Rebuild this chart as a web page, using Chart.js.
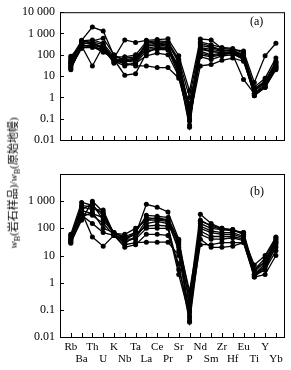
<!DOCTYPE html>
<html>
<head>
<meta charset="utf-8">
<script src="https://cdn.jsdelivr.net/npm/chart.js@4/dist/chart.umd.min.js"></script>
<style>
  body { margin: 0; background: #fff; }
  #wrap { position: relative; width: 291px; height: 370px; }
  canvas { position: absolute; left: 0; top: 0; }
  .tag { position: absolute; font: 12px "Liberation Serif", serif; color: #000; }
  #ylab {
    position: absolute; left: 13px; top: 183px; white-space: nowrap;
    transform: translate(-50%, -50%) rotate(-90deg);
    font: 11px "Liberation Serif", "Noto Sans CJK SC", serif; color: #000;
  }
  #ylab sub { font-size: 8px; }
</style>
</head>
<body>
<div id="wrap">
  <canvas id="ca" width="291" height="370"></canvas>
  <canvas id="cb" width="291" height="370"></canvas>
  <div class="tag" style="left:250px; top:14px;">(a)</div>
  <div class="tag" style="left:250px; top:184px;">(b)</div>
  <div id="ylab"><i>w</i><sub>B</sub>(岩石样品)/<i>w</i><sub>B</sub>(原始地幔)</div>
</div>
<script>
// elements, primitive mantle normalised
const elements = ["Rb", "Ba", "Th", "U", "K", "Nb", "Ta", "La", "Ce", "Pr", "Sr", "P", "Nd", "Sm", "Zr", "Hf", "Eu", "Ti", "Y", "Yb"];
const yTicks = [0.01, 0.1, 1, 10, 100, 1000, 10000];

// panel (a)
const a1 = [40, 480, 2000, 1300, 90, 60, 70, 300, 350, 320, 50, 0.3, 280, 220, 160, 150, 60, 2.5, 6, 30];
const a2 = [85, 280, 250, 130, 70, 500, 380, 480, 520, 560, 90, 2.0, 550, 500, 200, 180, 150, 5, 90, 350];
const a3 = [60, 350, 350, 200, 60, 11, 13, 120, 220, 200, 30, 0.2, 200, 150, 120, 130, 100, 2, 5, 40];
const a4 = [25, 200, 280, 150, 55, 40, 30, 30, 25, 25, 8, 0.1, 30, 35, 55, 70, 50, 1.5, 3, 25];
const a5 = [30, 260, 30, 260, 65, 60, 55, 260, 300, 250, 25, 0.15, 150, 100, 120, 110, 60, 1.5, 4, 35];
const a6 = [50, 400, 450, 600, 100, 50, 60, 350, 400, 380, 40, 0.3, 350, 250, 170, 160, 100, 2, 5, 45];
const a7 = [20, 300, 400, 300, 60, 50, 45, 200, 250, 220, 20, 0.05, 180, 140, 130, 140, 80, 1.2, 3, 20];
const a8 = [35, 380, 300, 250, 45, 70, 80, 250, 300, 300, 15, 0.04, 220, 180, 150, 170, 90, 1.5, 4, 25];
const a9 = [28, 220, 220, 180, 70, 35, 40, 90, 120, 100, 10, 0.08, 80, 60, 90, 100, 7, 1.5, 4, 30];
const a10 = [45, 330, 380, 220, 50, 30, 40, 150, 180, 170, 12, 0.5, 120, 90, 110, 130, 70, 2, 6, 50];
const a11 = [70, 450, 500, 350, 80, 80, 100, 400, 450, 420, 60, 1.0, 400, 300, 220, 200, 120, 3, 8, 70];
const a12 = [22, 250, 300, 200, 40, 55, 60, 180, 200, 190, 18, 0.08, 100, 80, 100, 120, 60, 1.2, 3, 22];

// panel (b)
const b1 = [30, 200, 1000, 400, 60, 30, 50, 200, 250, 200, 30, 0.05, 150, 100, 90, 80, 70, 2, 5, 30];
const b2 = [60, 900, 700, 300, 70, 40, 60, 770, 600, 400, 40, 0.3, 330, 150, 100, 85, 70, 3, 8, 45];
const b3 = [35, 400, 48, 22, 55, 25, 30, 31, 31, 31, 10, 0.08, 25, 25, 30, 30, 30, 1.8, 3, 15];
const b4 = [45, 600, 500, 470, 60, 30, 45, 150, 180, 150, 20, 0.04, 120, 80, 70, 70, 50, 1.6, 4, 20];
const b5 = [40, 500, 800, 200, 65, 50, 70, 300, 280, 250, 35, 0.15, 200, 120, 90, 90, 60, 2.5, 6, 40];
const b6 = [55, 350, 300, 150, 55, 20, 25, 60, 60, 55, 5, 0.035, 40, 20, 20, 22, 30, 1.6, 2, 10];
const b7 = [28, 250, 400, 100, 70, 45, 60, 120, 130, 120, 3, 0.1, 80, 50, 50, 50, 40, 2, 3, 25];
const b8 = [50, 700, 600, 350, 60, 35, 80, 250, 220, 200, 25, 0.5, 100, 70, 60, 60, 45, 4.5, 10, 48];
const b9 = [33, 300, 150, 70, 55, 40, 40, 100, 100, 100, 2, 0.06, 60, 40, 40, 45, 35, 3, 6, 35];
const b10 = [38, 450, 350, 250, 65, 60, 100, 200, 200, 180, 15, 0.2, 180, 130, 100, 90, 60, 2, 4, 30];

const seriesA = [a1, a2, a3, a4, a5, a6, a7, a8, a9, a10, a11, a12];
const seriesB = [b1, b2, b3, b4, b5, b6, b7, b8, b9, b10];

const serif = "'Liberation Serif', serif";

// frame + inward ticks
const framePlugin = {
  id: "frame",
  afterDraw(chart) {
    const { ctx, chartArea: a, scales } = chart;
    ctx.save();
    ctx.strokeStyle = "#000";
    ctx.lineWidth = 1;
    ctx.strokeRect(a.left + 0.5, a.top + 0.5, a.right - a.left, a.bottom - a.top);
    ctx.beginPath();
    elements.forEach((_, i) => {
      const x = Math.round(scales.x.getPixelForValue(i)) + 0.5;
      ctx.moveTo(x, a.bottom);
      ctx.lineTo(x, a.bottom - 4);
    });
    yTicks.forEach(v => {
      const y = Math.round(scales.y.getPixelForValue(v)) + 0.5;
      ctx.moveTo(a.left, y);
      ctx.lineTo(a.left + 4, y);
    });
    ctx.stroke();
    ctx.restore();
  }
};

function makeChart(id, series, showX, padTop, hideTop) {
  return new Chart(document.getElementById(id), {
    type: "line",
    data: {
      datasets: series.map(s => ({
        data: s.map((v, i) => ({ x: i, y: v })),
        borderColor: "#000",
        borderWidth: 1.3,
        pointRadius: 2.5,
        pointBackgroundColor: "#000",
        pointBorderWidth: 0,
        fill: false,
        tension: 0
      }))
    },
    options: {
      responsive: false,
      animation: false,
      devicePixelRatio: 1,
      layout: { padding: { top: padTop, bottom: showX ? 0 : 197, left: 0, right: 7 } },
      plugins: { legend: { display: false }, tooltip: { enabled: false } },
      scales: {
        x: {
          type: "linear",
          min: -1,
          max: 19.75,
          display: showX,
          grid: { display: false, drawTicks: false },
          border: { display: false },
          afterBuildTicks: sc => { sc.ticks = elements.map((_, i) => ({ value: i })); },
          afterFit: sc => { sc.height = 33; },
          ticks: {
            autoSkip: false,
            maxRotation: 0,
            padding: 4,
            color: "#000",
            font: { family: serif, size: 11, lineHeight: 1.1 },
            callback: v => (v % 2 ? ["", elements[v]] : elements[v])
          }
        },
        y: {
          type: "logarithmic",
          min: 0.01,
          max: 10000,
          grid: { display: false, drawTicks: false },
          border: { display: false },
          afterBuildTicks: sc => { sc.ticks = yTicks.map(v => ({ value: v })); },
          afterFit: sc => { sc.width = 60; },
          ticks: {
            padding: 5,
            color: "#000",
            font: { family: serif, size: 12 },
            callback: v => {
              if (hideTop && v === 10000) return "";
              return v >= 1000 ? String(v).replace(/(\d)(?=(\d{3})+$)/g, "$1 ") : String(v);
            }
          }
        }
      }
    },
    plugins: [framePlugin]
  });
}

makeChart("ca", seriesA, false, 9, false);
makeChart("cb", seriesB, true, 174, true);
</script>
</body>
</html>
